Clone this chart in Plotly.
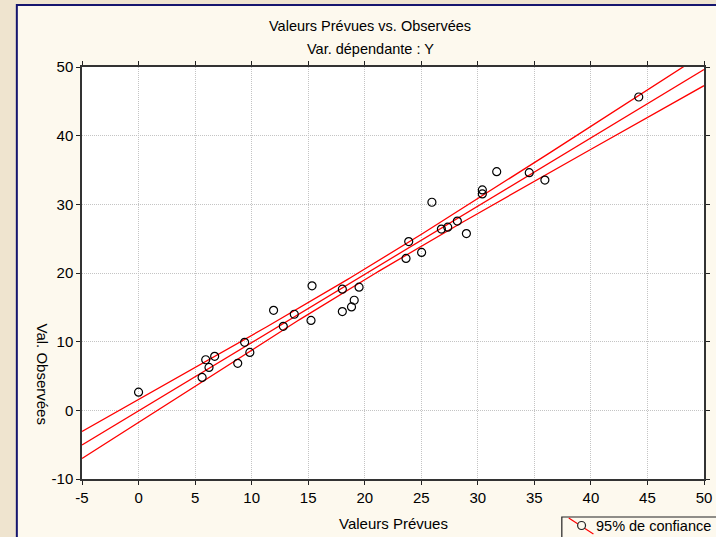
import numpy as np
import plotly.graph_objects as go

# Predicted (x) vs observed (y) values
predicted = [0.0, 5.62, 5.94, 6.23, 6.73, 8.77, 9.38, 9.84, 11.94, 12.8, 13.77,
             15.25, 15.34, 18.02, 18.02, 18.83, 19.07, 19.5, 23.65, 23.89, 25.03,
             25.94, 26.78, 27.34, 28.19, 28.99, 30.4, 30.4, 31.67, 34.55, 35.93, 44.23]
observed = [2.65, 4.79, 7.37, 6.25, 7.86, 6.84, 9.9, 8.44, 14.57, 12.23, 13.99,
            13.1, 18.13, 17.64, 14.38, 15.06, 16.03, 17.93, 22.12, 24.57, 23.0,
            30.3, 26.4, 26.67, 27.56, 25.74, 31.52, 32.1, 34.76, 34.61, 33.53, 45.63]

x_ticks = [-5, 0, 5, 10, 15, 20, 25, 30, 35, 40, 45, 50]
y_ticks = [-10, 0, 10, 20, 30, 40, 50]

# Linear fit with 95% confidence band for the mean
x = np.array(predicted)
y = np.array(observed)
n = len(x)
slope, intercept = np.polyfit(x, y, 1)
resid = y - (intercept + slope * x)
s = np.sqrt(np.sum(resid ** 2) / (n - 2))
sxx = np.sum((x - x.mean()) ** 2)
t_crit = 2.042  # Student t, 0.975 quantile, 30 df
xg = np.linspace(-5, 50, 200)
yg = intercept + slope * xg
half = t_crit * s * np.sqrt(1 / n + (xg - x.mean()) ** 2 / sxx)

W, H = 716, 537
L, R, T, B = 82, 4, 67, 58
PW, PH = W - L - R, H - T - B


def px(v):
    return (v - L) / PW


def py(v):
    return (H - B - v) / PH


RED = "#FF0000"
FONT = "Liberation Sans, Arial, sans-serif"

fig = go.Figure()
for yy in (yg + half, yg, yg - half):
    fig.add_trace(go.Scatter(x=xg, y=yy, mode="lines",
                             line=dict(color=RED, width=1.3),
                             showlegend=False, hoverinfo="skip"))
fig.add_trace(go.Scatter(x=predicted, y=observed, mode="markers",
                         marker=dict(symbol="circle-open", size=8,
                                     color="black", line=dict(width=1.2)),
                         showlegend=False))

shapes = [
    # cream panel with navy frame
    dict(type="rect", xref="paper", yref="paper", layer="below",
         x0=px(16), x1=px(740), y0=py(570), y1=py(5),
         fillcolor="#FDF9EE", line=dict(color="#15156E", width=2)),
    # white plotting area
    dict(type="rect", xref="paper", yref="paper", layer="below",
         x0=0, x1=1, y0=0, y1=1, fillcolor="white", line=dict(width=0)),
    # legend box
    dict(type="rect", xref="paper", yref="paper",
         x0=px(568), x1=px(760), y0=py(570), y1=py(517),
         fillcolor="#FDF9EE", line=dict(color="#222222", width=1.2)),
    dict(type="line", xref="paper", yref="paper",
         x0=px(575), x1=px(600), y0=py(518), y1=py(534),
         line=dict(color=RED, width=1.2)),
    dict(type="circle", xref="paper", yref="paper",
         x0=px(584), x1=px(592), y0=py(529.5), y1=py(521.5),
         fillcolor="#FDF9EE", line=dict(color="#222222", width=1.2)),
]


def label(text, xp, yp, size, **kw):
    return dict(text=text, x=px(xp), y=py(yp), xref="paper", yref="paper",
                showarrow=False, xanchor=kw.pop("xanchor", "center"),
                yanchor="middle", font=dict(size=size, color="black", family=FONT),
                **kw)


annotations = [
    label("Valeurs Prévues vs. Observées", 374, 26, 14.5),
    label("Var. dépendante : Y", 374, 49, 14.5),
    label("Valeurs Prévues", 397, 523, 15),
    label("Val. Observées", 42, 374, 15, textangle=90),
    label("95% de confiance", 601, 526, 14.5, xanchor="left"),
]

axis_common = dict(showgrid=True, gridcolor="#C4C4C4", griddash="1px,1px",
                   gridwidth=1, showline=True, linecolor="#333333",
                   linewidth=1.5, mirror="ticks", ticks="outside",
                   ticklen=4, tickcolor="#222222", zeroline=False,
                   tickfont=dict(size=15, color="black", family=FONT))

fig.update_layout(
    width=W, height=H,
    margin=dict(l=L, r=R, t=T, b=B, pad=0),
    paper_bgcolor="#EFE4CF",
    plot_bgcolor="white",
    shapes=shapes,
    annotations=annotations,
    xaxis=dict(range=[-5, 50], tickvals=x_ticks,
               ticktext=[str(v) for v in x_ticks], **axis_common),
    yaxis=dict(range=[-10, 50], tickvals=y_ticks,
               ticktext=[str(v) for v in y_ticks], **axis_common),
    showlegend=False,
)

fig.write_html("out.html")
